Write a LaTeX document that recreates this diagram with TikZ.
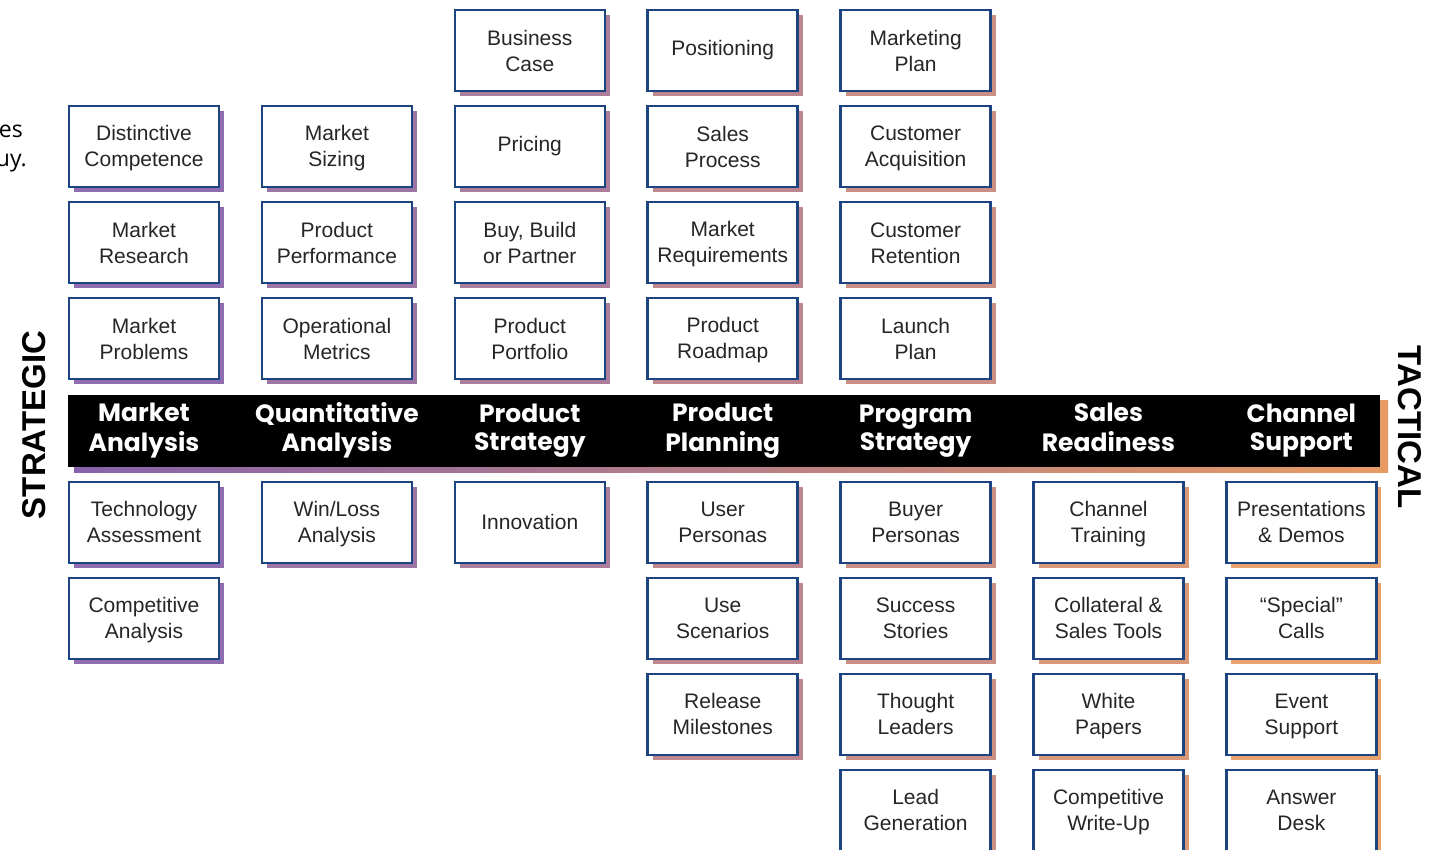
\documentclass[tikz,border=0pt]{standalone}
\usepackage{fontspec}
\usepackage{xcolor}
\usetikzlibrary{positioning, shadows}
\setmainfont{Liberation Sans}
\newfontfamily\headfam{Poppins}
\newfontfamily\notefam{Open Sans}
\newcommand{\ls}{\rule[-3pt]{0pt}{21pt}}

\definecolor{boxblue}{RGB}{28,68,128}
\definecolor{shleft}{RGB}{105,60,150}
\definecolor{shright}{RGB}{225,130,60}
\colorlet{sha}{shleft}
\colorlet{shb}{shright!17!shleft}
\colorlet{shc}{shright!33!shleft}
\colorlet{shd}{shright!50!shleft}
\colorlet{she}{shright!67!shleft}
\colorlet{shf}{shright!83!shleft}
\colorlet{shg}{shright}

\begin{document}
\begin{tikzpicture}[
    x=1pt, y=1pt,
    node distance=12.5pt,
    box/.style={rectangle, draw=boxblue, line width=2.5pt, fill=white, text=black!85,
        minimum width=150pt, minimum height=81pt, align=center,
        font=\fontsize{21}{26}\selectfont,
        drop shadow={fill=#1, opacity=0.75, shadow xshift=5pt, shadow yshift=-5pt}},
    head/.style={rectangle, text width=180pt, inner xsep=6.25pt, minimum height=72pt,
        align=center, text=white, font=\headfam\bfseries\fontsize{25}{28}\selectfont},
    side/.style={inner sep=0pt, font=\bfseries\fontsize{33}{33}\selectfont},
    note/.style={inner sep=0pt, font=\notefam\fontsize{23}{29}\selectfont}
]
    \useasboundingbox (0,0) rectangle (1437,850);
    % Band
    \shade[left color=shleft, right color=shright, opacity=0.8] (74,377) rectangle (1388,449);
    \fill[black] (68,383) rectangle (1380,455);
    % Side labels
    \node[side, rotate=90] (strat) at (34,425) {STRATEGIC};
    \node[side, rotate=-90] (tact) at (1410,423) {TACTICAL};
    \node[note, anchor=base east] (note1) at (23,712) {es};
    \node[note, anchor=base east] (note2) at (27,683) {uy.};
    % Market Analysis
    \node[head] (ma) at (144,419) {Market\strut\\Analysis\strut};
    \node[box=sha, above=14.5pt of ma] (mprob) {Market\ls\\Problems\ls};
    \node[box=sha, above=of mprob] (mres) {Market\ls\\Research\ls};
    \node[box=sha, above=of mres] (dcomp) {Distinctive\ls\\Competence\ls};
    \node[box=sha, below=13.5pt of ma] (tech) {Technology\ls\\Assessment\ls};
    \node[box=sha, below=of tech] (comp) {Competitive\ls\\Analysis\ls};
    % Quantitative Analysis
    \node[head, right=0pt of ma] (qa) {Quantitative\strut\\Analysis\strut};
    \node[box=shb, above=14.5pt of qa] (opmet) {Operational\ls\\Metrics\ls};
    \node[box=shb, above=of opmet] (prodperf) {Product\ls\\Performance\ls};
    \node[box=shb, above=of prodperf] (msize) {Market\ls\\Sizing\ls};
    \node[box=shb, below=13.5pt of qa] (winloss) {Win/Loss\ls\\Analysis\ls};
    % Product Strategy
    \node[head, right=0pt of qa] (ps) {Product\strut\\Strategy\strut};
    \node[box=shc, above=14.5pt of ps] (portf) {Product\ls\\Portfolio\ls};
    \node[box=shc, above=of portf] (bbp) {Buy, Build\ls\\or Partner\ls};
    \node[box=shc, above=of bbp] (pricing) {Pricing};
    \node[box=shc, above=of pricing] (bcase) {Business\ls\\Case\ls};
    \node[box=shc, below=13.5pt of ps] (innov) {Innovation};
    % Product Planning
    \node[head, right=0pt of ps] (pp) {Product\strut\\Planning\strut};
    \node[box=shd, above=14.5pt of pp] (roadmap) {Product\ls\\Roadmap\ls};
    \node[box=shd, above=of roadmap] (mreq) {Market\ls\\Requirements\ls};
    \node[box=shd, above=of mreq] (salesproc) {Sales\ls\\Process\ls};
    \node[box=shd, above=of salesproc] (posit) {Positioning};
    \node[box=shd, below=13.5pt of pp] (upers) {User\ls\\Personas\ls};
    \node[box=shd, below=of upers] (usescen) {Use\ls\\Scenarios\ls};
    \node[box=shd, below=of usescen] (release) {Release\ls\\Milestones\ls};
    % Program Strategy
    \node[head, right=0pt of pp] (pg) {Program\strut\\Strategy\strut};
    \node[box=she, above=14.5pt of pg] (launch) {Launch\ls\\Plan\ls};
    \node[box=she, above=of launch] (cret) {Customer\ls\\Retention\ls};
    \node[box=she, above=of cret] (cacq) {Customer\ls\\Acquisition\ls};
    \node[box=she, above=of cacq] (mplan) {Marketing\ls\\Plan\ls};
    \node[box=she, below=13.5pt of pg] (bpers) {Buyer\ls\\Personas\ls};
    \node[box=she, below=of bpers] (success) {Success\ls\\Stories\ls};
    \node[box=she, below=of success] (thought) {Thought\ls\\Leaders\ls};
    \node[box=she, below=of thought] (leadgen) {Lead\ls\\Generation\ls};
    % Sales Readiness
    \node[head, right=0pt of pg] (sr) {Sales\strut\\Readiness\strut};
    \node[box=shf, below=13.5pt of sr] (chtrain) {Channel\ls\\Training\ls};
    \node[box=shf, below=of chtrain] (collat) {Collateral \&\ls\\Sales Tools\ls};
    \node[box=shf, below=of collat] (white) {White\ls\\Papers\ls};
    \node[box=shf, below=of white] (compwu) {Competitive\ls\\Write-Up\ls};
    % Channel Support
    \node[head, right=0pt of sr] (cs) {Channel\strut\\Support\strut};
    \node[box=shg, below=13.5pt of cs] (presdemo) {Presentations\ls\\\& Demos\ls};
    \node[box=shg, below=of presdemo] (special) {“Special”\ls\\Calls\ls};
    \node[box=shg, below=of special] (event) {Event\ls\\Support\ls};
    \node[box=shg, below=of event] (answer) {Answer\ls\\Desk\ls};
\end{tikzpicture}
\end{document}
